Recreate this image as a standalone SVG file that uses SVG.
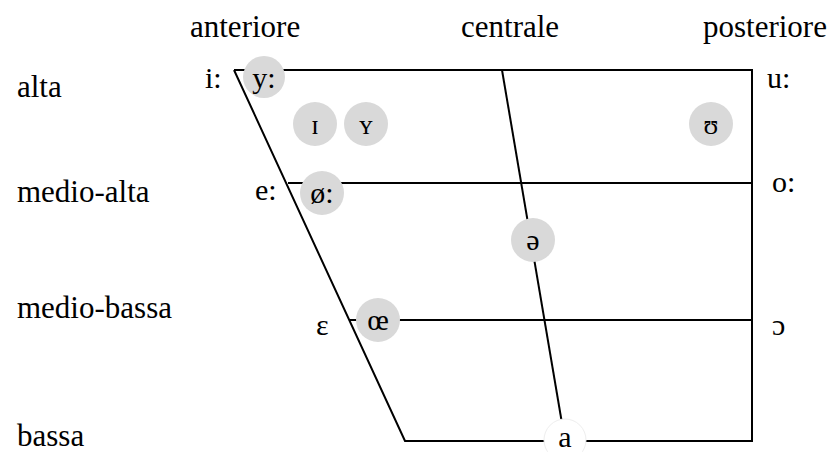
<svg xmlns="http://www.w3.org/2000/svg" width="835" height="452" viewBox="0 0 835 452">
<style>
text{font-family:"Liberation Serif","DejaVu Serif","Times New Roman",serif;fill:#000}
.h{font-size:31px}
.v{font-size:30px}
.s{font-size:27px}
.c{text-anchor:middle}
.ln{stroke:#000;stroke-width:2;fill:none}
.g{fill:#d9d9d9}
</style>
<rect width="835" height="452" fill="#fff"/>
<g id="headers">
<text class="h" x="190" y="37">anteriore</text>
<text class="h" x="461" y="37">centrale</text>
<text class="h" x="703" y="37">posteriore</text>
<text class="h" x="17" y="97">alta</text>
<text class="h" x="17" y="202">medio-alta</text>
<text class="h" x="17" y="318">medio-bassa</text>
<text class="h" x="17" y="446">bassa</text>
</g>
<g id="connectors">
<polyline class="ln" points="234,70 752,70 752,441 405,441 234,70"/>
<line class="ln" x1="502" y1="70" x2="565" y2="441"/>
<line class="ln" x1="288" y1="183" x2="752" y2="183"/>
<line class="ln" x1="350" y1="320" x2="752" y2="320"/>
</g>
<g id="v-i"><text class="v" x="205" y="88">i:</text></g>
<g id="v-y"><circle class="g" cx="264" cy="77" r="21"/><text class="v c" x="264" y="88">y:</text></g>
<g id="v-I"><circle class="g" cx="315" cy="124" r="22"/><text class="s c" x="315" y="134">ɪ</text></g>
<g id="v-Y"><circle class="g" cx="366" cy="124" r="22"/><text class="s c" x="366" y="134">ʏ</text></g>
<g id="v-U"><circle class="g" cx="711" cy="124" r="22"/><text class="s c" x="711" y="134">ʊ</text></g>
<g id="v-u"><text class="v" x="767" y="88">u:</text></g>
<g id="v-e"><text class="v" x="255" y="200">e:</text></g>
<g id="v-oe"><circle class="g" cx="322" cy="193" r="22"/><text class="v c" x="322" y="203">ø:</text></g>
<g id="v-o"><text class="v" x="772" y="192">o:</text></g>
<g id="v-schwa"><circle class="g" cx="533" cy="240" r="22"/><text class="v c" x="533" y="250">ə</text></g>
<g id="v-eps"><text class="v" x="316" y="335">ɛ</text></g>
<g id="v-oelig"><circle class="g" cx="378" cy="320" r="22"/><text class="v c" x="378" y="330">œ</text></g>
<g id="v-open-o"><text class="v" x="772" y="335">ɔ</text></g>
<g id="v-a"><circle cx="565" cy="440" r="21" fill="#fff" stroke="#eee" stroke-width="1"/><text class="v c" x="565" y="447">a</text></g>
</svg>
